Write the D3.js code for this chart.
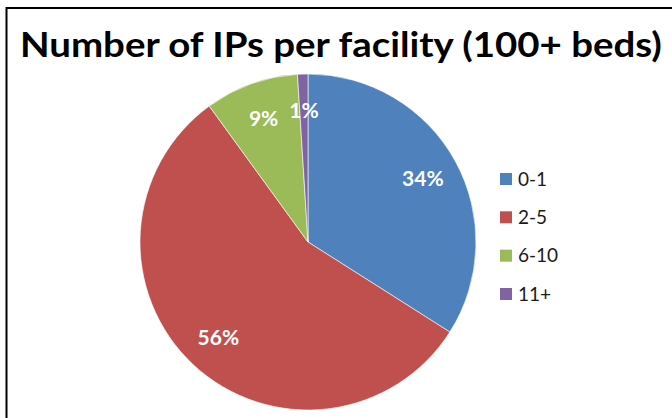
<!DOCTYPE html>
<html>
<head>
<meta charset="utf-8">
<script src="https://cdn.jsdelivr.net/npm/d3@7"></script>
<style>
	body { margin: 0; background: #fff; }
	svg { display: block; }
</style>
</head>
<body>
<svg id="chart" width="672" height="418"></svg>
<script>
// data
const CATEGORIES = ['0-1', '2-5', '6-10', '11+'];
const SHARES = [34, 56, 9, 1];
const COLORS = ['#4f81bd', '#c0504d', '#9bbb59', '#8064a2'];
const TITLE = 'Number of IPs per facility (100+ beds)';

const svg = d3.select('#chart');
const W = 672, H = 418;

// frame: only left and top edges show in the crop
svg.append('path')
	.attr('d', `M6.5,${H} V8 H${W}`)
	.attr('fill', 'none')
	.attr('stroke', '#000')
	.attr('stroke-width', 2);

// title, squeezed horizontally so it spans the same width as the original
const title = svg.append('text')
	.attr('x', 0)
	.attr('y', 0)
	.style('font-family', 'Lato, "Open Sans", sans-serif')
	.style('font-weight', 'bold')
	.style('font-size', '35px')
	.attr('fill', '#000')
	.text(TITLE);
const tw = title.node().getComputedTextLength();
title.attr('transform', `translate(20,57) scale(${642 / tw},1)`);

// pie
const cx = 308, cy = 242, R = 168;
const data = CATEGORIES.map((c, i) => ({ name: c, value: SHARES[i], color: COLORS[i] }));

const pie = d3.pie()
	.value(d => d.value)
	.sort(null);

const arc = d3.arc()
	.innerRadius(0)
	.outerRadius(R);

const label_arc = d3.arc()
	.innerRadius(R * 0.78)
	.outerRadius(R * 0.78);

const g = svg.append('g')
	.attr('transform', `translate(${cx},${cy})`);

const arcs = pie(data);

g.selectAll('path')
	.data(arcs)
	.enter()
	.append('path')
		.attr('d', arc)
		.attr('fill', d => d.data.color)
		.attr('stroke', '#fff')
		.attr('stroke-width', 0.6);

g.selectAll('text')
	.data(arcs)
	.enter()
	.append('text')
		.attr('transform', d => `translate(${label_arc.centroid(d)})`)
		.attr('text-anchor', 'middle')
		.attr('dy', '0.35em')
		.style('font-family', 'Lato, "Open Sans", sans-serif')
		.style('font-weight', 'bold')
		.style('font-size', '21px')
		.attr('fill', '#fff')
		.text(d => d.data.value + '%');

// legend
const legend_y = d3.scalePoint()
	.domain(CATEGORIES)
	.range([179, 294]);

const legend = svg.append('g')
	.selectAll('g')
	.data(data)
	.enter()
	.append('g')
		.attr('transform', d => `translate(500,${legend_y(d.name)})`);

legend.append('rect')
	.attr('x', 0)
	.attr('y', -6)
	.attr('width', 12)
	.attr('height', 12)
	.attr('fill', d => d.color);

legend.append('text')
	.attr('x', 18)
	.attr('dy', '0.35em')
	.style('font-family', 'Lato, "Open Sans", sans-serif')
	.style('font-size', '19px')
	.attr('fill', '#1a1a1a')
	.text(d => d.name);
</script>
</body>
</html>
